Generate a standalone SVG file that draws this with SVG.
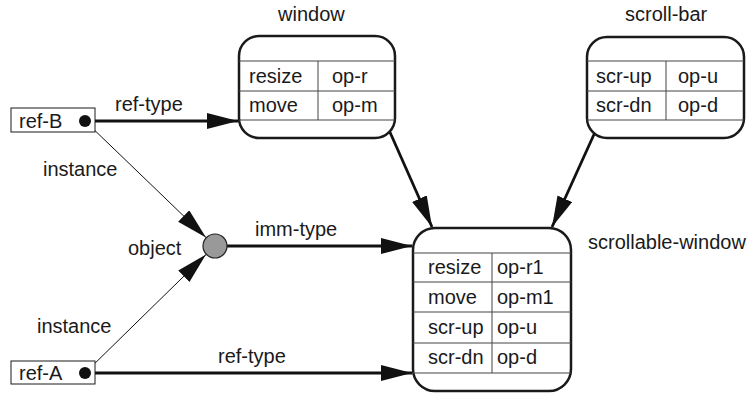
<svg xmlns="http://www.w3.org/2000/svg" width="755" height="393" viewBox="0 0 755 393">
  <style>
    text { font-family: "Liberation Sans", Arial, sans-serif; font-size: 20px; fill: #1a1a1a; }
    .box { fill: #fff; stroke: #1a1a1a; stroke-width: 2.5; }
    .grid { fill: none; stroke: #444; stroke-width: 1; }
    .ref { fill: #fff; stroke: #1a1a1a; stroke-width: 1; }
    .thick { fill: none; stroke: #111; stroke-width: 2.8; }
    .thin { fill: none; stroke: #111; stroke-width: 1; }
    .dot { fill: #111; }
  </style>
  <defs>
    <marker id="head" markerUnits="userSpaceOnUse" markerWidth="34" markerHeight="18" refX="31" refY="8" orient="auto">
      <path d="M0,0 L31,8 L0,16 Z" fill="#111"/>
    </marker>
  </defs>

  <!-- connectors -->
  <g id="connectors">
    <line class="thick" x1="85" y1="121" x2="238" y2="121" marker-end="url(#head)"/>
    <line class="thick" x1="227" y1="246" x2="412" y2="246" marker-end="url(#head)"/>
    <line class="thick" x1="85" y1="373" x2="412" y2="373" marker-end="url(#head)"/>
    <line class="thin" x1="85" y1="121" x2="206" y2="237.5" marker-end="url(#head)"/>
    <line class="thin" x1="85" y1="373" x2="206" y2="254.5" marker-end="url(#head)"/>
    <line class="thick" x1="389" y1="130" x2="432" y2="227" marker-end="url(#head)"/>
    <line class="thick" x1="596" y1="130" x2="552" y2="227" marker-end="url(#head)"/>
  </g>

  <!-- window -->
  <g id="window">
    <text x="278" y="21">window</text>
    <rect class="box" x="239" y="36" width="156" height="102" rx="20"/>
    <path class="grid" d="M239,61 H395 M239,91 H395 M239,120 H395 M318,61 V120"/>
    <text x="249" y="83">resize</text>
    <text x="332" y="83">op-r</text>
    <text x="249" y="112">move</text>
    <text x="332" y="112">op-m</text>
  </g>

  <!-- scroll-bar -->
  <g id="scroll-bar">
    <text x="625" y="21">scroll-bar</text>
    <rect class="box" x="587" y="37" width="157" height="101" rx="20"/>
    <path class="grid" d="M587,61 H744 M587,91 H744 M587,120 H744 M666,61 V120"/>
    <text x="596" y="83">scr-up</text>
    <text x="678" y="83">op-u</text>
    <text x="596" y="112">scr-dn</text>
    <text x="678" y="112">op-d</text>
  </g>

  <!-- scrollable-window -->
  <g id="scrollable-window">
    <rect class="box" x="413" y="228" width="158" height="163" rx="22"/>
    <path class="grid" d="M413,253 H571 M413,282 H571 M413,312 H571 M413,343 H571 M413,373 H571 M492,253 V373"/>
    <text x="428" y="274">resize</text>
    <text x="497" y="274">op-r1</text>
    <text x="428" y="304">move</text>
    <text x="497" y="304">op-m1</text>
    <text x="428" y="334">scr-up</text>
    <text x="497" y="334">op-u</text>
    <text x="428" y="364">scr-dn</text>
    <text x="497" y="364">op-d</text>
    <text x="588" y="249">scrollable-window</text>
  </g>

  <!-- object -->
  <g id="object">
    <circle cx="215" cy="246" r="12" fill="#999" stroke="#222" stroke-width="1.2"/>
    <text x="128" y="255">object</text>
  </g>

  <!-- ref-B -->
  <g id="ref-B">
    <rect class="ref" x="11" y="108" width="84" height="24"/>
    <text x="19" y="128">ref-B</text>
    <circle class="dot" cx="85" cy="121" r="6"/>
  </g>

  <!-- ref-A -->
  <g id="ref-A">
    <rect class="ref" x="11" y="361" width="84" height="23"/>
    <text x="19" y="380">ref-A</text>
    <circle class="dot" cx="85" cy="373" r="6"/>
  </g>

  <!-- edge labels -->
  <g id="labels">
    <text x="115" y="111">ref-type</text>
    <text x="43" y="176">instance</text>
    <text x="255" y="236">imm-type</text>
    <text x="37" y="333">instance</text>
    <text x="218" y="363">ref-type</text>
  </g>
</svg>
